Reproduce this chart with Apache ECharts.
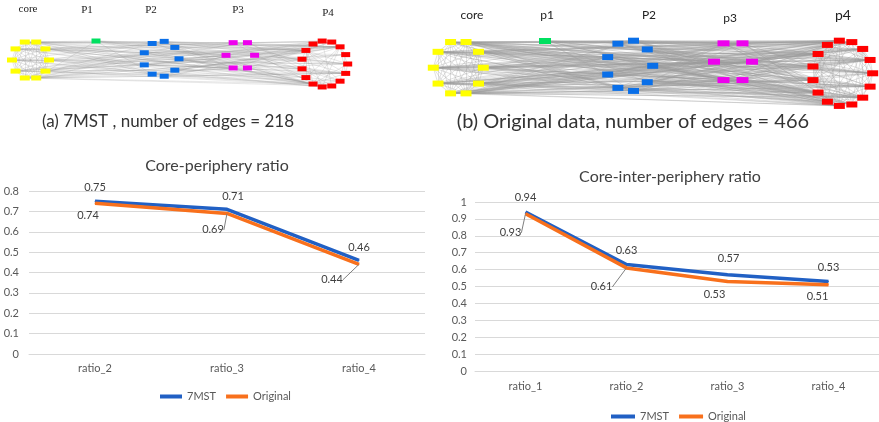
<!DOCTYPE html>
<html><head><meta charset="utf-8">
<script src="https://cdn.jsdelivr.net/npm/echarts@6/dist/echarts.min.js"></script>
<style>html,body{margin:0;padding:0;background:#fff}#c{width:879px;height:422px}</style>
</head><body><div id="c"></div>
<script>
// ---------------- data ----------------
const leftCategories = ['ratio_2', 'ratio_3', 'ratio_4'];
const leftMST = [0.75, 0.71, 0.46];
const leftOriginal = [0.74, 0.69, 0.44];
const rightCategories = ['ratio_1', 'ratio_2', 'ratio_3', 'ratio_4'];
const rightMST = [0.94, 0.63, 0.57, 0.53];
const rightOriginal = [0.93, 0.61, 0.53, 0.51];
const seriesNames = ['7MST', 'Original'];
const chartTitles = ['Core-periphery ratio', 'Core-inter-periphery ratio'];
const leftTicks = { min: 0, max: 0.8, interval: 0.1 };
const rightTicks = { min: 0, max: 1, interval: 0.1 };
const clusterNamesA = ['core', 'P1', 'P2', 'P3', 'P4'];
const clusterNamesB = ['core', 'p1', 'P2', 'p3', 'p4'];
const clusterNodeCounts = [10, 1, 9, 6, 15];
const edgeCounts = [218, 466];
const captionTexts = ['(a) 7MST , number of edges = ', '(b) Original data, number of edges = '];

// ---------------- styles / layout ----------------
const BLUE = '#2160c4', ORANGE = '#f8701c';
const clusterColors = ['#ffff00', '#00e060', '#0a6fe8', '#ee00ee', '#ff0000'];
const FONT = 'Lato';
const netLayout = [
  {
    names: clusterNamesA,
    clusters: [
      { cx: 30.5, cy: 60, rx: 18.5, ry: 18.9, w: 10, h: 5 },
      { cx: 96, cy: 41, rx: 0, ry: 0, w: 9, h: 5 },
      { cx: 161.1, cy: 58.8, rx: 17.9, ry: 17.7, w: 9, h: 5 },
      { cx: 240.3, cy: 55.3, rx: 14.3, ry: 14.6, w: 9, h: 5 },
      { cx: 324.6, cy: 64, rx: 23.1, ry: 23.1, w: 9, h: 5 }
    ],
    labelPos: [[28, 9], [87, 10], [151, 10], [238, 10], [328, 13]],
    labelFont: ['11px "Liberation Serif"', '11px "Liberation Serif"', '11px "Liberation Serif"', '11px "Liberation Serif"', '11px "Liberation Serif"'],
    captionPos: [168, 122], captionFont: '17px ' + FONT, edgeOpacity: 0.4
  },
  {
    names: clusterNamesB,
    clusters: [
      { cx: 458.3, cy: 67.7, rx: 25, ry: 27, w: 11, h: 6 },
      { cx: 545, cy: 41, rx: 0, ry: 0, w: 12, h: 6 },
      { cx: 629.5, cy: 65.8, rx: 23.2, ry: 25.5, w: 11, h: 6 },
      { cx: 733, cy: 61.7, rx: 19, ry: 21.2, w: 12, h: 6 },
      { cx: 842.5, cy: 73.3, rx: 30.2, ry: 32.8, w: 11, h: 6 }
    ],
    labelPos: [[472, 15], [547, 15], [649, 15], [730, 18], [843, 15]],
    labelFont: ['12px ' + FONT, '12px ' + FONT, '12px ' + FONT, '12px ' + FONT, '14px ' + FONT],
    captionPos: [633, 122], captionFont: '20px ' + FONT, edgeOpacity: 0.5
  }
];

function buildNet(layout, edgeCount) {
  const nodes = [], clusterOf = [];
  layout.clusters.forEach((c, ci) => {
    const n = clusterNodeCounts[ci];
    for (let k = 0; k < n; k++) {
      const a = 2 * Math.PI * k / n;
      nodes.push({ value: [c.cx + c.rx * Math.cos(a), c.cy + c.ry * Math.sin(a)],
        symbolSize: [c.w, c.h], itemStyle: { color: clusterColors[ci] } });
      clusterOf.push(ci);
    }
  });
  const links = [], cand = [];
  for (let i = 0; i < nodes.length; i++) {
    for (let j = i + 1; j < nodes.length; j++) {
      if (clusterOf[i] === 0 && clusterOf[j] === 0) links.push({ source: i, target: j });
      else if (clusterOf[i] !== clusterOf[j] || clusterOf[i] === 4) cand.push({ source: i, target: j });
    }
  }
  const need = edgeCount - links.length, M = cand.length;
  for (let k = 0; k < M; k++) {
    if (Math.floor((k + 1) * need / M) > Math.floor(k * need / M)) links.push(cand[k]);
  }
  return { nodes, links };
}

const nets = netLayout.map((l, i) => buildNet(l, edgeCounts[i]));

const graphics = [];
netLayout.forEach((l, i) => {
  l.names.forEach((nm, ci) => {
    graphics.push({ type: 'text', x: l.labelPos[ci][0], y: l.labelPos[ci][1],
      style: { text: nm, align: 'center', verticalAlign: 'middle', font: l.labelFont[ci], fill: '#222' } });
  });
  graphics.push({ type: 'text', x: l.captionPos[0], y: l.captionPos[1],
    style: { text: captionTexts[i] + edgeCounts[i], align: 'center', verticalAlign: 'middle', font: l.captionFont, fill: '#333' } });
});
graphics.push({ type: 'text', x: 217, y: 166, style: { text: chartTitles[0], align: 'center', verticalAlign: 'middle', font: '16px ' + FONT, fill: '#404040' } });
graphics.push({ type: 'text', x: 670, y: 177, style: { text: chartTitles[1], align: 'center', verticalAlign: 'middle', font: '16px ' + FONT, fill: '#404040' } });

const labelStyle = { fontFamily: FONT, fontSize: 11, color: '#404040' };
// label offsets (style) per point
const offLM = [[0, -3], [6, -1.5], [0, -2]];
const offLO = [[-7, 1], [-14, 5.5], [-27, 4.5]];
const leadLO = [false, true, true];
const offRM = [[0, -4], [0, -3.5], [1, -5], [0, -3]];
const offRO = [[-15, 8], [-25, 8], [-13, 2], [-11, 1]];
const leadRO = [true, true, false, false];

function lineSeries(name, vals, color, gi, pos, offs, leads) {
  return {
    type: 'line', name, xAxisIndex: gi, yAxisIndex: gi,
    data: vals.map((v, i) => ({ value: v, labelLine: { show: !!(leads && leads[i]) } })),
    symbol: 'circle', symbolSize: 1, showSymbol: true,
    lineStyle: { color, width: 3.5 }, itemStyle: { color },
    label: Object.assign({ show: true, position: pos }, labelStyle),
    labelLine: { show: false, lineStyle: { color: '#7f7f7f', width: 1 } },
    labelLayout: (p) => ({ dx: offs[p.dataIndex][0], dy: offs[p.dataIndex][1] }),
    silent: true, animation: false
  };
}

const axisLabel = { color: '#595959', fontFamily: FONT, fontSize: 11 };
const option = {
  backgroundColor: '#fff',
  animation: false,
  grid: [
    { left: 29, top: 191, width: 396, height: 163 },
    { left: 475, top: 202, width: 411, height: 169 },
    { left: 0, top: 0, width: 879, height: 140 }
  ],
  xAxis: [
    { type: 'category', gridIndex: 0, data: leftCategories, axisTick: { show: false },
      axisLine: { lineStyle: { color: '#d9d9d9' } }, axisLabel: Object.assign({ margin: 9 }, axisLabel) },
    { type: 'category', gridIndex: 1, data: rightCategories, axisTick: { show: false },
      axisLine: { lineStyle: { color: '#d9d9d9' } }, axisLabel: Object.assign({ margin: 10 }, axisLabel) },
    { type: 'value', gridIndex: 2, min: 0, max: 879, show: false }
  ],
  yAxis: [
    { type: 'value', gridIndex: 0, min: leftTicks.min, max: leftTicks.max, interval: leftTicks.interval,
      axisLine: { show: false }, axisTick: { show: false },
      splitLine: { lineStyle: { color: '#d9d9d9' } }, axisLabel: Object.assign({ margin: 10 }, axisLabel) },
    { type: 'value', gridIndex: 1, min: rightTicks.min, max: rightTicks.max, interval: rightTicks.interval,
      axisLine: { show: false }, axisTick: { show: false },
      splitLine: { lineStyle: { color: '#d9d9d9' } }, axisLabel: Object.assign({ margin: 8 }, axisLabel) },
    { type: 'value', gridIndex: 2, min: 0, max: 140, inverse: true, show: false }
  ],
  legend: [
    { data: seriesNames, left: 155, top: 386, icon: 'rect', itemWidth: 22, itemHeight: 4, itemGap: 10,
      textStyle: { color: '#595959', fontFamily: FONT, fontSize: 11 }, selectedMode: false },
    { data: seriesNames, left: 606, top: 406, icon: 'rect', itemWidth: 24, itemHeight: 4, itemGap: 10,
      textStyle: { color: '#595959', fontFamily: FONT, fontSize: 11 }, selectedMode: false }
  ],
  graphic: graphics,
  series: [
    ...nets.map((n, i) => ({
      type: 'graph', coordinateSystem: 'cartesian2d', xAxisIndex: 2, yAxisIndex: 2,
      symbol: 'rect', data: n.nodes, links: n.links,
      lineStyle: { color: '#999', width: 0.6, opacity: netLayout[i].edgeOpacity, curveness: 0 },
      silent: true, animation: false, z: 1
    })),
    lineSeries(seriesNames[0], leftMST, BLUE, 0, 'top', offLM, null),
    lineSeries(seriesNames[1], leftOriginal, ORANGE, 0, 'bottom', offLO, leadLO),
    lineSeries(seriesNames[0], rightMST, BLUE, 1, 'top', offRM, null),
    lineSeries(seriesNames[1], rightOriginal, ORANGE, 1, 'bottom', offRO, leadRO)
  ]
};
const chart = echarts.init(document.getElementById('c'), null, { renderer: 'canvas' });
chart.setOption(option);
</script></body></html>
